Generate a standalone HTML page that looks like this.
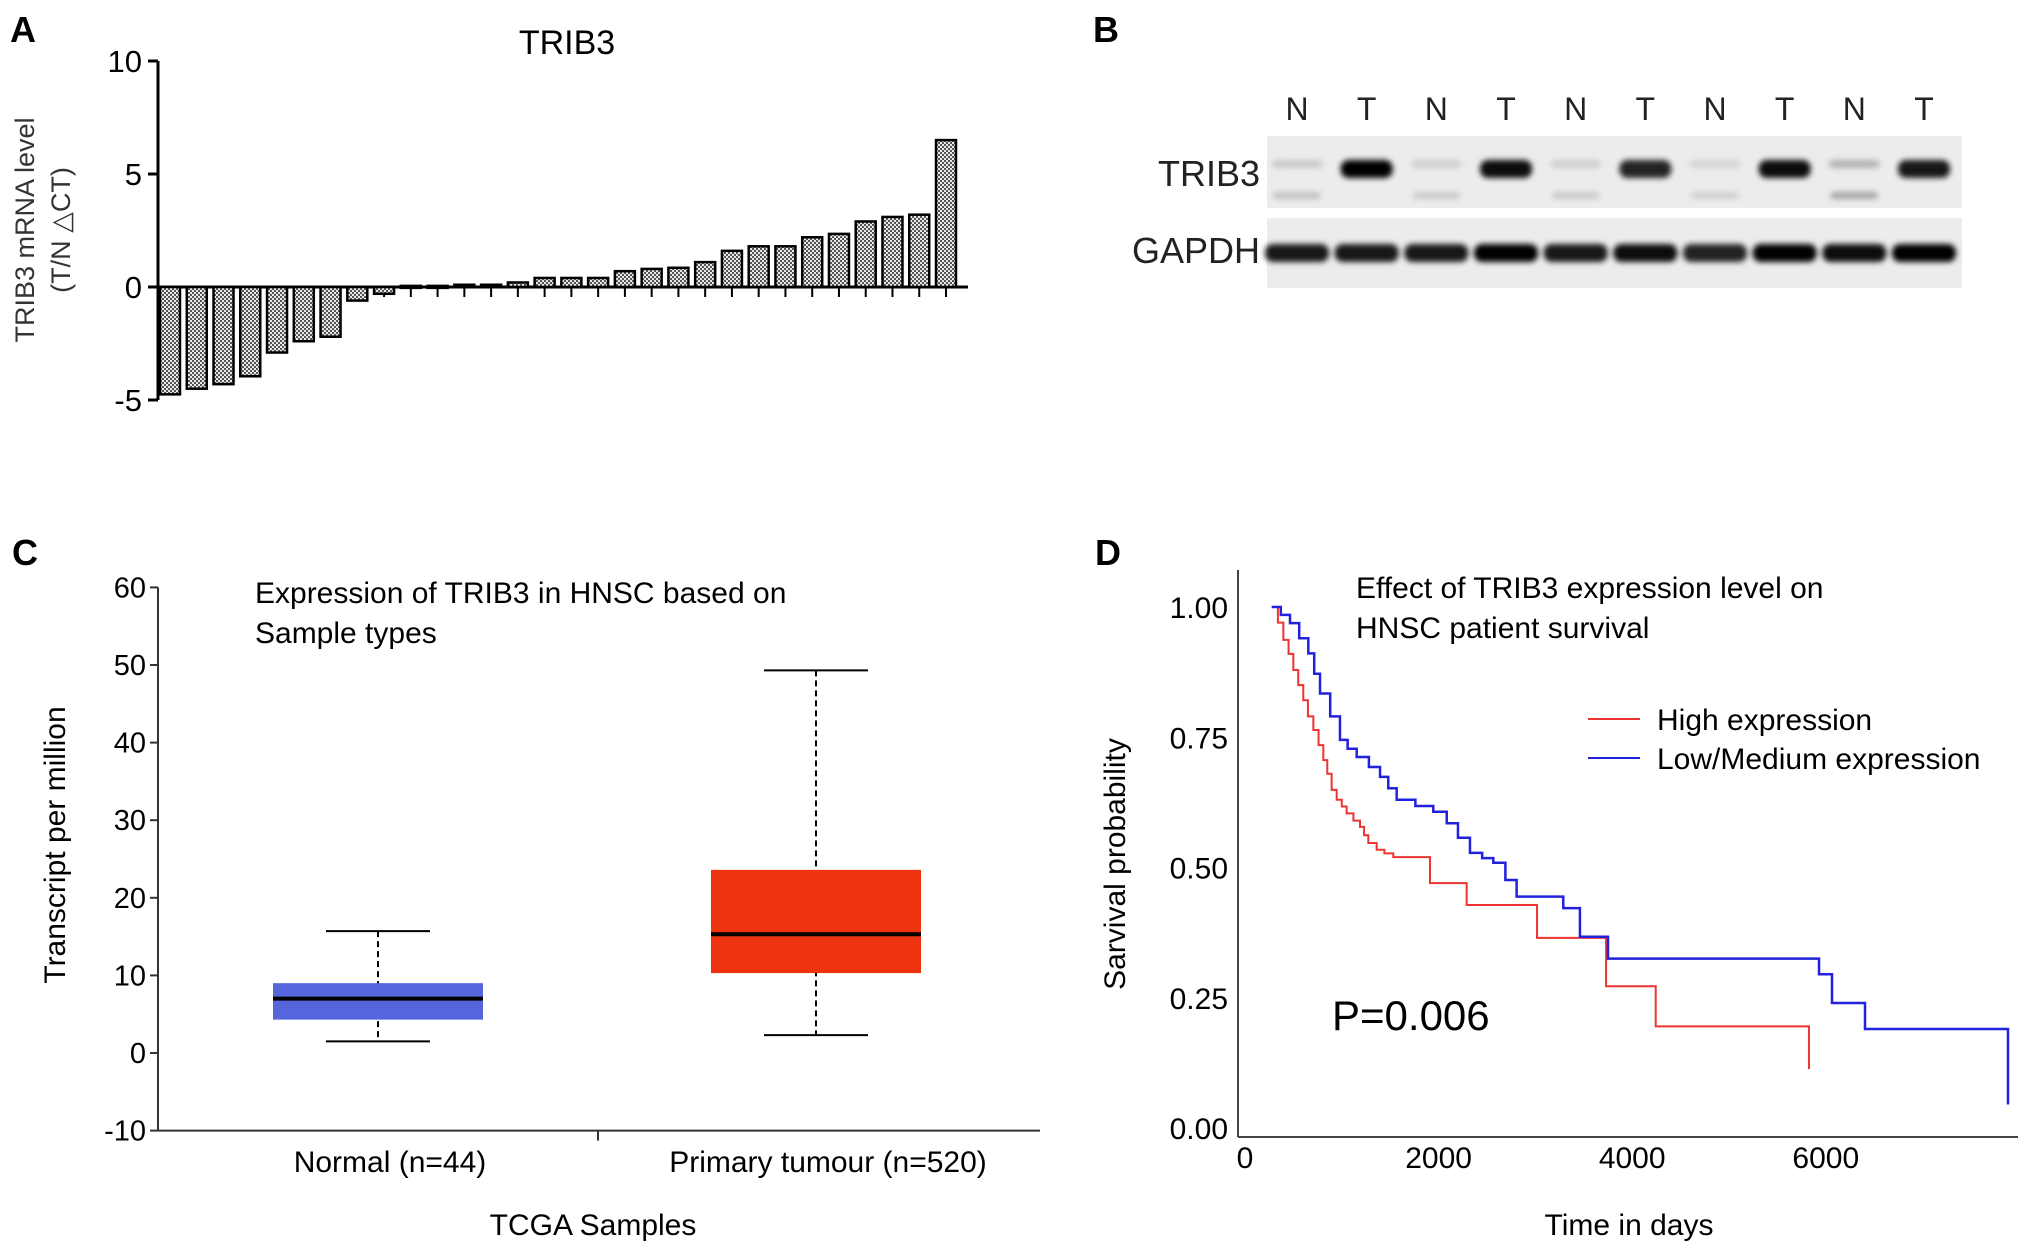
<!DOCTYPE html>
<html><head><meta charset="utf-8"><style>
body{margin:0;background:#fff}
svg{display:block;font-family:"Liberation Sans",Arial,sans-serif}
</style></head><body>
<svg id="fig" width="2031" height="1253" viewBox="0 0 2031 1253">
<defs>
<pattern id="hatch" width="4" height="4" patternUnits="userSpaceOnUse">
<rect width="4" height="4" fill="#e8e8e8"/><rect width="2" height="2" fill="#555"/><rect x="2" y="2" width="2" height="2" fill="#555"/>
</pattern>
<filter id="blur" x="-20%" y="-50%" width="140%" height="200%"><feGaussianBlur stdDeviation="3"/></filter>
</defs>
<g id="panelA">
<text x="10" y="42" font-size="36" font-weight="bold">A</text>
<text x="567" y="54" font-size="34" text-anchor="middle">TRIB3</text>
<text transform="translate(34,230) rotate(-90)" font-size="27" text-anchor="middle" fill="#333">TRIB3 mRNA level</text>
<text transform="translate(70,230) rotate(-90)" font-size="27" text-anchor="middle" fill="#333">(T/N △CT)</text>
<g id="aAxes"></g><g id="aBars"></g>
</g>
<g id="panelB">
<text x="1093" y="42" font-size="36" font-weight="bold">B</text>
<g id="lanes"></g>
<rect x="1267" y="136" width="695" height="72" fill="#ececec"/>
<rect x="1267" y="218" width="695" height="70" fill="#ececec"/>
<g id="bands" filter="url(#blur)"></g>
<text x="1260" y="186" font-size="36" text-anchor="end" fill="#222">TRIB3</text>
<text x="1260" y="263" font-size="36" text-anchor="end" fill="#222">GAPDH</text>
</g>
<g id="panelC">
<text x="12" y="565" font-size="36" font-weight="bold">C</text>
<text x="255" y="603" font-size="30">Expression of TRIB3 in HNSC based on</text>
<text x="255" y="643" font-size="30">Sample types</text>
<text transform="translate(65,845) rotate(-90)" font-size="30" text-anchor="middle">Transcript per million</text>
<text x="593" y="1235" font-size="30" text-anchor="middle">TCGA Samples</text>
<g id="cAxes"></g><g id="cBoxes"></g>
</g>
<g id="panelD">
<text x="1095" y="565" font-size="36" font-weight="bold">D</text>
<text x="1356" y="598" font-size="30">Effect of TRIB3 expression level on</text>
<text x="1356" y="638" font-size="30">HNSC patient survival</text>
<text transform="translate(1125,864) rotate(-90)" font-size="30" text-anchor="middle">Sarvival probability</text>
<text x="1629" y="1235" font-size="30" text-anchor="middle">Time in days</text>
<text x="1332" y="1030" font-size="42">P=0.006</text>
<line x1="1588" y1="719" x2="1640" y2="719" stroke="#e33" stroke-width="2"/>
<text x="1657" y="730" font-size="30">High expression</text>
<line x1="1588" y1="758" x2="1640" y2="758" stroke="#22d" stroke-width="2"/>
<text x="1657" y="769" font-size="30">Low/Medium expression</text>
<g id="dAxes"></g><g id="dCurves"></g>
</g>
</svg>
<script>
// Panel A data
const aValues = [-4.75,-4.5,-4.3,-3.95,-2.9,-2.4,-2.2,-0.6,-0.3,0.05,0.05,0.1,0.1,0.2,0.4,0.4,0.4,0.7,0.8,0.85,1.1,1.6,1.8,1.8,2.2,2.35,2.9,3.1,3.2,6.5];
const aTicks = [10,5,0,-5];
// Panel B lanes
const laneLabels = ["N","T","N","T","N","T","N","T","N","T"];
const trib3Intensity = [0.15,1,0.12,0.95,0.12,0.85,0.1,0.95,0.25,0.9];
const gapdhIntensity = [0.9,0.9,0.9,1,0.9,0.95,0.85,1,0.95,1];
// Panel C data
const cCategories = ["Normal (n=44)","Primary tumour (n=520)"];
const cMin = [1.5,2.3];
const cQ1 = [4.3,10.3];
const cMedian = [7,15.3];
const cQ3 = [9,23.6];
const cMax = [15.7,49.3];
const cColors = ["#5566dd","#ee3311"];
const cTicks = [60,50,40,30,20,10,0,-10];
// Panel D data (days, probability)
const highDays = [276,340,396,450,499,550,602,650,706,760,809,850,895,947,1000,1050,1120,1188,1230,1274,1360,1440,1532,1911,2290,3017,3730,4243,5826];
const highProb = [1.0,0.97,0.937,0.91,0.879,0.85,0.821,0.79,0.764,0.735,0.706,0.68,0.649,0.63,0.617,0.604,0.59,0.578,0.562,0.547,0.534,0.527,0.52,0.47,0.428,0.365,0.272,0.195,0.113];
const lowDays = [276,370,465,560,654,715,775,880,981,1060,1154,1280,1395,1480,1567,1760,1945,2084,2200,2324,2450,2565,2690,2806,3288,3460,3750,5930,6064,6405,7882];
const lowProb = [1.0,0.985,0.969,0.94,0.911,0.872,0.834,0.79,0.745,0.728,0.712,0.693,0.674,0.652,0.63,0.618,0.607,0.585,0.557,0.528,0.518,0.509,0.476,0.444,0.422,0.367,0.325,0.295,0.24,0.19,0.045];
const dYTicks = [1.00,0.75,0.50,0.25,0.00];
const dXTicks = [0,2000,4000,6000];

const NS="http://www.w3.org/2000/svg";
function mk(tag,attrs,parent,text){const e=document.createElementNS(NS,tag);for(const k in attrs)e.setAttribute(k,attrs[k]);if(text!==undefined)e.textContent=text;parent.appendChild(e);return e;}

// ---- Panel A
const aY=v=>287-v*22.6;
const aX=i=>170+i*(946-170)/(aValues.length-1);
const aAx=document.getElementById('aAxes');
let l=mk('line',{x1:158,y1:aY(10),x2:158,y2:aY(-5),stroke:'#000','stroke-width':3},aAx);


l=mk('line',{x1:158,y1:aY(0),x2:968,y2:aY(0),stroke:'#000','stroke-width':3},aAx);


aTicks.forEach(t=>{
  mk('line',{x1:148,y1:aY(t),x2:158,y2:aY(t),stroke:'#000','stroke-width':3},aAx);
  const tx=mk('text',{x:142,y:aY(t)+11,'font-size':31,'text-anchor':'end'},aAx,String(t));
  
  
});
const aB=document.getElementById('aBars');
aValues.forEach((v,i)=>{
  const x=aX(i);
  mk('line',{x1:x,y1:aY(0),x2:x,y2:aY(0)+10,stroke:'#000','stroke-width':2},aAx);
  const y0=Math.min(aY(0),aY(v)),h=Math.max(2,Math.abs(aY(v)-aY(0)));
  const r=mk('rect',{x:x-10,y:y0,width:20,height:h,fill:'url(#hatch)',stroke:'#000','stroke-width':2.5},aB);
  
  
});

// ---- Panel B
const laneX=i=>1297+i*(1924-1297)/9;
const lanesG=document.getElementById('lanes'),bandsG=document.getElementById('bands');
laneLabels.forEach((s,i)=>{
  const t=mk('text',{x:laneX(i),y:120,'font-size':32,'text-anchor':'middle',fill:'#222'},lanesG,s);
  
  
  const a=trib3Intensity[i];
  const b=mk('rect',{x:laneX(i)-26,y:160,width:52,height:a>0.5?18:8,rx:8,fill:'#000','fill-opacity':a},bandsG);
  
  
  if(a<0.5){mk('rect',{x:laneX(i)-24,y:192,width:48,height:7,rx:4,fill:'#000','fill-opacity':a*1.2},bandsG);}
  const g=mk('rect',{x:laneX(i)-32,y:244,width:64,height:18,rx:8,fill:'#000','fill-opacity':gapdhIntensity[i]},bandsG);
  
  
});

// ---- Panel C
const cY=v=>1053-v*7.76;
const cX=[378,816];
const cAx=document.getElementById('cAxes');
l=mk('line',{x1:158,y1:cY(60),x2:158,y2:cY(-10),stroke:'#333','stroke-width':2},cAx);


l=mk('line',{x1:158,y1:cY(-10),x2:1040,y2:cY(-10),stroke:'#333','stroke-width':2},cAx);


mk('line',{x1:598,y1:cY(-10),x2:598,y2:cY(-10)+10,stroke:'#333','stroke-width':2},cAx);
cTicks.forEach(t=>{
  mk('line',{x1:150,y1:cY(t),x2:158,y2:cY(t),stroke:'#333','stroke-width':2},cAx);
  const tx=mk('text',{x:146,y:cY(t)+10,'font-size':29,'text-anchor':'end'},cAx,String(t));
  
  
});
const cB=document.getElementById('cBoxes');
cCategories.forEach((c,i)=>{
  const x=cX[i];
  const t=mk('text',{x:x+12,y:1172,'font-size':30,'text-anchor':'middle'},cAx,c);
  
  
  mk('line',{x1:x,y1:cY(cMax[i]),x2:x,y2:cY(cMin[i]),stroke:'#000','stroke-width':2,'stroke-dasharray':'6,4'},cB);
  mk('line',{x1:x-52,y1:cY(cMax[i]),x2:x+52,y2:cY(cMax[i]),stroke:'#000','stroke-width':2},cB);
  mk('line',{x1:x-52,y1:cY(cMin[i]),x2:x+52,y2:cY(cMin[i]),stroke:'#000','stroke-width':2},cB);
  const r=mk('rect',{x:x-105,y:cY(cQ3[i]),width:210,height:cY(cQ1[i])-cY(cQ3[i]),fill:cColors[i]},cB);
  
  
  mk('line',{x1:x-105,y1:cY(cMedian[i]),x2:x+105,y2:cY(cMedian[i]),stroke:'#000','stroke-width':4},cB);
});

// ---- Panel D
const dX=d=>1245+d*0.0968;
const dY=p=>1128-p*521;
const dAx=document.getElementById('dAxes');
l=mk('line',{x1:1238,y1:570,x2:1238,y2:1137,stroke:'#444','stroke-width':2},dAx);


l=mk('line',{x1:1238,y1:1137,x2:2018,y2:1137,stroke:'#444','stroke-width':2},dAx);


dYTicks.forEach(t=>{
  const tx=mk('text',{x:1228,y:dY(t)+11,'font-size':30,'text-anchor':'end'},dAx,t.toFixed(2));
  
  
});
dXTicks.forEach(t=>{
  const tx=mk('text',{x:dX(t),y:1168,'font-size':30,'text-anchor':'middle'},dAx,String(t));
  
  
});
function stepPath(ds,ps){let s='M'+dX(ds[0])+','+dY(ps[0]);for(let i=1;i<ds.length;i++){s+=' H'+dX(ds[i])+' V'+dY(ps[i]);}return s;}
const dC=document.getElementById('dCurves');
let p=mk('path',{d:stepPath(highDays,highProb),fill:'none',stroke:'#e33','stroke-width':2},dC);


p=mk('path',{d:stepPath(lowDays,lowProb),fill:'none',stroke:'#22d','stroke-width':2.5},dC);


</script>
</body></html>
